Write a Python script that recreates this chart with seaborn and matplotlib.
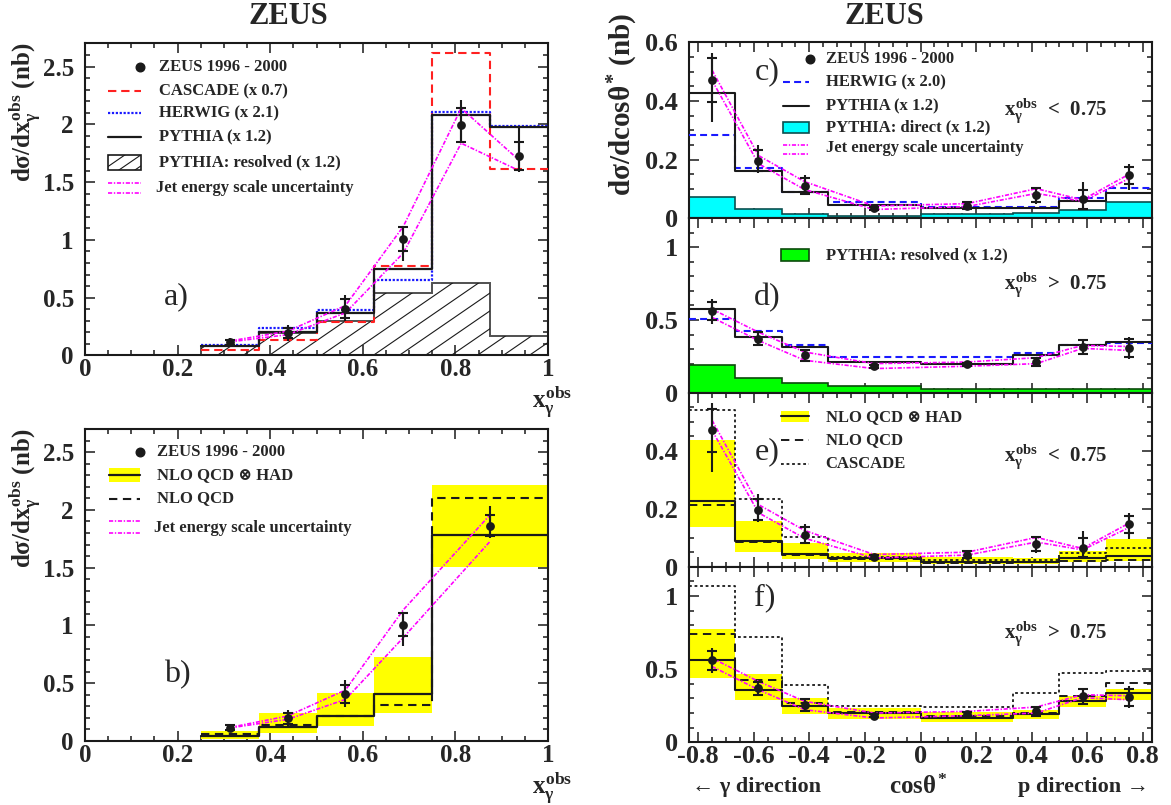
import numpy as np
import matplotlib
matplotlib.use("Agg")
import matplotlib.pyplot as plt
from matplotlib.patches import Rectangle
from matplotlib.ticker import MultipleLocator, FixedLocator, FuncFormatter
import seaborn as sns

# ---------------- x_gamma^obs cross sections (panels a, b) ----------------
xg_edges = [0.25, 0.375, 0.5, 0.625, 0.75, 0.875, 1.0]
xg_centres = [0.3125, 0.4375, 0.5625, 0.6875, 0.8125, 0.9375]
xg_data = [0.115, 0.196, 0.406, 1.008, 1.996, 1.728]
xg_stat = [0.02, 0.045, 0.08, 0.10, 0.147, 0.12]
xg_tot_dn = [0.035, 0.07, 0.11, 0.19, 0.16, 0.144]
xg_tot_up = [0.035, 0.07, 0.12, 0.11, 0.216, 0.26]
xg_jes_up = [0.125, 0.21, 0.432, 1.117, 2.14, 1.69]
xg_jes_dn = [0.118, 0.18, 0.369, 0.887, 1.837, 1.60]
xg_cascade = [0.046, 0.138, 0.294, 0.772, 2.615, 1.613]
xg_herwig = [0.092, 0.239, 0.392, 0.651, 2.105, 1.987]
xg_pythia = [0.081, 0.204, 0.369, 0.749, 2.082, 1.98]
xg_pythia_res = [0.078, 0.195, 0.30, 0.541, 0.628, 0.167]

# NLO comparison with the two highest bins merged
xgn_edges = [0.25, 0.375, 0.5, 0.625, 0.75, 1.0]
xgn_centres = [0.3125, 0.4375, 0.5625, 0.6875, 0.875]
xgn_data = [0.115, 0.196, 0.406, 1.008, 1.863]
xgn_stat = [0.02, 0.045, 0.08, 0.10, 0.093]
xgn_tot_dn = [0.035, 0.07, 0.11, 0.19, 0.11]
xgn_tot_up = [0.035, 0.07, 0.12, 0.11, 0.17]
xgn_jes_up = [0.117, 0.216, 0.441, 1.135, 1.958]
xgn_jes_dn = [0.113, 0.187, 0.36, 0.895, 1.728]
xgn_nlo_had = [0.043, 0.124, 0.216, 0.403, 1.786]
xgn_nlo = [0.058, 0.135, 0.216, 0.314, 2.10]
xgn_band_lo = [0.02, 0.072, 0.13, 0.239, 1.503]
xgn_band_hi = [0.086, 0.245, 0.418, 0.726, 2.218]

# ---------------- cos(theta*) cross sections (panels c-f) ----------------
cos_edges = [-0.833, -0.667, -0.5, -0.333, 0.0, 0.333, 0.5, 0.667, 0.833]
cos_centres = [-0.75, -0.583, -0.417, -0.167, 0.167, 0.417, 0.583, 0.75]

# x_gamma^obs < 0.75
lo_data = [0.47, 0.197, 0.110, 0.034, 0.042, 0.079, 0.065, 0.146]
lo_stat = [0.075, 0.037, 0.028, 0.006, 0.012, 0.024, 0.033, 0.03]
lo_tot_dn = [0.143, 0.043, 0.031, 0.008, 0.015, 0.031, 0.037, 0.05]
lo_tot_up = [0.094, 0.053, 0.036, 0.008, 0.015, 0.026, 0.059, 0.038]
lo_jes_up = [0.505, 0.214, 0.125, 0.042, 0.050, 0.101, 0.063, 0.150]
lo_jes_dn = [0.47, 0.186, 0.098, 0.030, 0.040, 0.085, 0.058, 0.135]
lo_pythia = [0.426, 0.160, 0.090, 0.047, 0.036, 0.036, 0.059, 0.085]
lo_herwig = [0.285, 0.171, 0.088, 0.054, 0.039, 0.039, 0.070, 0.104]
lo_pythia_dir = [0.071, 0.030, 0.015, 0.008, 0.015, 0.017, 0.028, 0.054]
lo_nlo_had = [0.225, 0.088, 0.043, 0.029, 0.017, 0.017, 0.029, 0.038]
lo_nlo = [0.214, 0.086, 0.041, 0.025, 0.014, 0.015, 0.021, 0.023]
lo_band_lo = [0.137, 0.051, 0.026, 0.015, 0.009, 0.009, 0.017, 0.021]
lo_band_hi = [0.437, 0.158, 0.082, 0.046, 0.034, 0.029, 0.054, 0.094]
lo_cascade = [0.541, 0.234, 0.103, 0.034, 0.023, 0.023, 0.046, 0.063]

# x_gamma^obs > 0.75
hi_data = [0.559, 0.370, 0.257, 0.182, 0.195, 0.211, 0.314, 0.307]
hi_stat = [0.062, 0.045, 0.04, 0.012, 0.012, 0.03, 0.05, 0.06]
hi_tot_dn = [0.086, 0.052, 0.046, 0.015, 0.015, 0.034, 0.057, 0.073]
hi_tot_up = [0.084, 0.05, 0.045, 0.015, 0.015, 0.034, 0.056, 0.075]
hi_jes_up = [0.575, 0.416, 0.28, 0.2, 0.211, 0.241, 0.325, 0.318]
hi_jes_dn = [0.518, 0.359, 0.223, 0.166, 0.182, 0.2, 0.305, 0.291]
hi_pythia = [0.575, 0.386, 0.314, 0.211, 0.195, 0.257, 0.325, 0.348]
hi_herwig = [0.507, 0.427, 0.330, 0.245, 0.245, 0.273, 0.325, 0.343]
hi_pythia_res = [0.189, 0.098, 0.064, 0.045, 0.023, 0.027, 0.025, 0.027]
hi_nlo_had = [0.563, 0.360, 0.247, 0.197, 0.167, 0.192, 0.283, 0.339]
hi_nlo = [0.740, 0.428, 0.269, 0.208, 0.179, 0.201, 0.314, 0.405]
hi_band_lo = [0.439, 0.287, 0.192, 0.158, 0.140, 0.156, 0.242, 0.292]
hi_band_hi = [0.774, 0.468, 0.303, 0.231, 0.208, 0.219, 0.317, 0.367]
hi_cascade = [1.068, 0.717, 0.389, 0.247, 0.242, 0.337, 0.473, 0.486]

# ---------------- style ----------------
sns.set_theme(style="ticks")
plt.rcParams.update({
    "font.family": ["Liberation Serif", "DejaVu Serif"],
    "font.weight": "bold",
    "mathtext.fontset": "custom",
    "mathtext.rm": "Liberation Serif:bold",
    "mathtext.it": "Liberation Serif:bold",
    "mathtext.bf": "Liberation Serif:bold",
    "mathtext.sf": "Liberation Serif:bold",
    "lines.scale_dashes": False,
    "axes.linewidth": 1.5,
    "axes.edgecolor": "black",
    "axes.facecolor": "white",
    "figure.facecolor": "white",
    "axes.grid": False,
})

MAGENTA = "#ff00ff"
JES_LS = (0, (3.0, 1.2, 1.0, 1.2))

W, H = 1171, 805
fig = plt.figure(figsize=(W / 100, H / 100), dpi=100)


def px_axes(left, top, right, bottom):
    return fig.add_axes([left / W, 1 - bottom / H, (right - left) / W, (bottom - top) / H])


ax_a = px_axes(85, 43.5, 548, 355.5)
ax_b = px_axes(85, 429, 548, 741)
ax_c = px_axes(689, 42.3, 1152, 218.3)
ax_d = px_axes(689, 218.3, 1152, 392.7)
ax_e = px_axes(689, 392.7, 1152, 566.7)
ax_f = px_axes(689, 566.7, 1152, 742.3)


def steps(ax, edges, values, **kw):
    """Histogram outline of a binned prediction."""
    e = np.asarray(edges)
    centres = 0.5 * (e[:-1] + e[1:])
    sns.histplot(x=centres, weights=values, bins=edges, element="step",
                 fill=False, ax=ax, legend=False, **kw)


def band(ax, edges, lo, hi, color="#ffff00"):
    ax.stairs(hi, edges, baseline=lo, fill=True, color=color, lw=0, zorder=1)


def hatch_fill(ax, patch, angle=34.5, step_px=26, lw=0.8):
    """Diagonal hatching clipped to a patch."""
    pos = ax.get_position()
    w_px, h_px = pos.width * W, pos.height * H
    slope = np.tan(np.radians(angle)) * w_px / h_px
    step = step_px / w_px
    for c in np.arange(-2.0 / slope - step, 1.0 + step, step):
        ln, = ax.plot([c, c + 3.0 / slope], [0, 3.0], transform=ax.transAxes,
                      color="k", lw=lw, zorder=patch.get_zorder() + 0.1)
        ln.set_clip_path(patch)


def jes(ax, x, lo, hi):
    for v in (lo, hi):
        sns.lineplot(x=x, y=v, ax=ax, color=MAGENTA, linewidth=1.2,
                     linestyle=JES_LS, errorbar=None, sort=False, zorder=5)


def points(ax, x, y, stat, tot_dn, tot_up):
    ax.errorbar(x, y, yerr=[tot_dn, tot_up], fmt="none", ecolor="k",
                elinewidth=1.5, zorder=6)
    ax.errorbar(x, y, yerr=stat, fmt="none", ecolor="k", elinewidth=1.5,
                capsize=3.8, capthick=1.5, zorder=6)
    sns.scatterplot(x=x, y=y, ax=ax, color="k", s=40, linewidth=0,
                    zorder=7, legend=False)


def tick_fmt(v, _):
    v = round(v, 6) + 0.0
    return f"{v:g}"


def style(ax, xmaj, xmin, yticks, ymin, xlim, ylim, xlabels=True, labelsize=18):
    ax.set_xlim(xlim)
    ax.set_ylim(ylim)
    ax.xaxis.set_major_locator(MultipleLocator(xmaj))
    ax.xaxis.set_minor_locator(MultipleLocator(xmin))
    ax.yaxis.set_major_locator(FixedLocator(yticks))
    ax.yaxis.set_minor_locator(MultipleLocator(ymin))
    ax.xaxis.set_major_formatter(FuncFormatter(tick_fmt))
    ax.yaxis.set_major_formatter(FuncFormatter(tick_fmt))
    ax.tick_params(which="both", direction="in", top=True, right=True,
                   width=1.1, color="k")
    ax.tick_params(which="major", length=7, labelsize=labelsize)
    ax.tick_params(which="minor", length=3.8)
    ax.tick_params(axis="x", pad=2)
    ax.tick_params(axis="y", pad=8)
    ax.tick_params(labelbottom=xlabels)
    ax.set_xlabel("")
    ax.set_ylabel("")
    for s in ax.spines.values():
        s.set_visible(True)
        s.set_linewidth(1.5)
        s.set_color("k")


# ---- legend helpers (axes-fraction placement) ----
def leg_text(ax, x, y, s, size=12):
    ax.text(x, y, s, transform=ax.transAxes, va="center", ha="left",
            fontsize=size, fontweight="bold", zorder=10)


def leg_line(ax, x0, x1, y, **kw):
    ax.plot([x0, x1], [y, y], transform=ax.transAxes, clip_on=False, zorder=10, **kw)


def leg_marker(ax, x, y):
    ax.plot([x], [y], "o", color="k", ms=6.2, transform=ax.transAxes,
            clip_on=False, zorder=10)


def leg_box(ax, x0, x1, y0, y1, **kw):
    r = Rectangle((x0, y0), x1 - x0, y1 - y0, transform=ax.transAxes,
                  zorder=9, **kw)
    ax.add_patch(r)
    return r


# ================= panel a =================
ax = ax_a
res = ax.stairs(xg_pythia_res, xg_edges, baseline=0, fill=True,
                facecolor="none", edgecolor="#505050", lw=1.4, zorder=1)
hatch_fill(ax, res)
steps(ax, xg_edges, xg_cascade, color="#ff2020", linewidth=1.5,
      linestyle=(0, (6, 3.5)), zorder=3)
steps(ax, xg_edges, xg_herwig, color="#1a1aff", linewidth=1.6,
      linestyle=(0, (1.6, 1.2)), zorder=3)
steps(ax, xg_edges, xg_pythia, color="k", linewidth=1.6, zorder=4)
jes(ax, xg_centres, xg_jes_dn, xg_jes_up)
points(ax, xg_centres, xg_data, xg_stat, xg_tot_dn, xg_tot_up)
style(ax, 0.2, 0.05, [0, 0.5, 1, 1.5, 2, 2.5], 0.1, (0, 1), (0, 2.7))

hx0, hx1, tx = 0.049, 0.121, 0.159
leg_marker(ax, 0.119, 0.924)
leg_text(ax, tx, 0.924, "ZEUS 1996 - 2000")
leg_line(ax, hx0, hx1, 0.847, color="#ff2020", lw=1.5, linestyle=(0, (6, 3.5)))
leg_text(ax, tx, 0.847, "CASCADE (x 0.7)")
leg_line(ax, hx0, hx1, 0.777, color="#1a1aff", lw=1.6, linestyle=(0, (1.6, 1.2)))
leg_text(ax, tx, 0.777, "HERWIG (x 2.1)")
leg_line(ax, hx0, hx1, 0.700, color="k", lw=1.6)
leg_text(ax, tx, 0.700, "PYTHIA (x 1.2)")
box = leg_box(ax, hx0, hx1, 0.596, 0.644, facecolor="white", edgecolor="k", lw=1.2)
hatch_fill(ax, box, step_px=16)
leg_text(ax, tx, 0.620, "PYTHIA: resolved (x 1.2)")
leg_line(ax, hx0, hx1, 0.554, color=MAGENTA, lw=1.2, linestyle=JES_LS)
leg_line(ax, hx0, hx1, 0.520, color=MAGENTA, lw=1.2, linestyle=JES_LS)
leg_text(ax, tx - 0.005, 0.537, "Jet energy scale uncertainty")
ax.text(0.198, 0.189, "a)", transform=ax.transAxes, fontsize=23,
        fontweight="normal", ha="center", va="center")

# ================= panel b =================
ax = ax_b
band(ax, xgn_edges, xgn_band_lo, xgn_band_hi)
steps(ax, xgn_edges, xgn_nlo, color="k", linewidth=1.5,
      linestyle=(0, (6, 4)), zorder=3)
steps(ax, xgn_edges, xgn_nlo_had, color="k", linewidth=1.6, zorder=4)
jes(ax, xgn_centres, xgn_jes_dn, xgn_jes_up)
points(ax, xgn_centres, xgn_data, xgn_stat, xgn_tot_dn, xgn_tot_up)
style(ax, 0.2, 0.05, [0, 0.5, 1, 1.5, 2, 2.5], 0.1, (0, 1), (0, 2.7))

hx0, hx1, tx = 0.051, 0.119, 0.155
leg_marker(ax, 0.119, 0.927)
leg_text(ax, tx, 0.927, "ZEUS 1996 - 2000")
leg_box(ax, hx0, hx1, 0.829, 0.876, facecolor="#ffff00", lw=0)
leg_line(ax, hx0, hx1, 0.852, color="k", lw=1.6)
leg_text(ax, tx, 0.851, "NLO QCD ⊗ HAD")
leg_line(ax, hx0, hx1, 0.777, color="k", lw=1.5, linestyle=(0, (6, 4)))
leg_text(ax, tx, 0.777, "NLO QCD")
leg_line(ax, hx0, hx1, 0.704, color=MAGENTA, lw=1.2, linestyle=JES_LS)
leg_line(ax, hx0, hx1, 0.667, color=MAGENTA, lw=1.2, linestyle=JES_LS)
leg_text(ax, tx - 0.005, 0.684, "Jet energy scale uncertainty")
ax.text(0.2, 0.213, "b)", transform=ax.transAxes, fontsize=23,
        fontweight="normal", ha="center", va="center")

# ================= panel c =================
RIGHT_LS = 19
ax = ax_c
ax.stairs(lo_pythia_dir, cos_edges, baseline=0, fill=True, facecolor="#00ffff",
          edgecolor="#0b4f4f", lw=1.2, zorder=1)
steps(ax, cos_edges, lo_herwig, color="#1a1aff", linewidth=1.5,
      linestyle=(0, (5, 3)), zorder=3)
steps(ax, cos_edges, lo_pythia, color="k", linewidth=1.5, zorder=4)
jes(ax, cos_centres, lo_jes_dn, lo_jes_up)
points(ax, cos_centres, lo_data, lo_stat, lo_tot_dn, lo_tot_up)
style(ax, 0.2, 0.05, [0, 0.2, 0.4, 0.6], 0.05, (-0.833, 0.833), (0, 0.6),
      xlabels=False, labelsize=RIGHT_LS)

hx0, hx1, tx = 0.202, 0.259, 0.295
leg_marker(ax, 0.261, 0.905)
leg_text(ax, tx, 0.905, "ZEUS 1996 - 2000")
leg_line(ax, hx0, hx1, 0.774, color="#1a1aff", lw=1.5, linestyle=(0, (5, 3)))
leg_text(ax, tx, 0.774, "HERWIG (x 2.0)")
leg_line(ax, hx0, hx1, 0.638, color="k", lw=1.5)
leg_text(ax, tx, 0.638, "PYTHIA (x 1.2)")
leg_box(ax, hx0, hx1, 0.483, 0.549, facecolor="#00ffff", edgecolor="#0b4f4f", lw=1.2)
leg_text(ax, tx, 0.518, "PYTHIA: direct (x 1.2)")
leg_line(ax, hx0, hx1, 0.416, color=MAGENTA, lw=1.2, linestyle=JES_LS)
leg_line(ax, hx0, hx1, 0.365, color=MAGENTA, lw=1.2, linestyle=JES_LS)
leg_text(ax, tx, 0.399, "Jet energy scale uncertainty")
ax.text(0.168, 0.831, "c)", transform=ax.transAxes, fontsize=23,
        fontweight="normal", ha="center", va="center")
ax.text(0.68, 0.615, r"$x_{\gamma}^{obs}$  <  0.75", transform=ax.transAxes,
        fontsize=15, ha="left", va="center")

# ================= panel d =================
ax = ax_d
ax.stairs(hi_pythia_res, cos_edges, baseline=0, fill=True, facecolor="#00ff00",
          edgecolor="#0b4a0b", lw=1.2, zorder=1)
steps(ax, cos_edges, hi_herwig, color="#1a1aff", linewidth=1.5,
      linestyle=(0, (5, 3)), zorder=3)
steps(ax, cos_edges, hi_pythia, color="k", linewidth=1.5, zorder=4)
jes(ax, cos_centres, hi_jes_dn, hi_jes_up)
points(ax, cos_centres, hi_data, hi_stat, hi_tot_dn, hi_tot_up)
style(ax, 0.2, 0.05, [0, 0.5, 1], 0.1, (-0.833, 0.833), (0, 1.2),
      xlabels=False, labelsize=RIGHT_LS)

leg_box(ax, 0.198, 0.259, 0.755, 0.822, facecolor="#00ff00", edgecolor="#0b4a0b", lw=1.2)
leg_text(ax, 0.295, 0.789, "PYTHIA: resolved (x 1.2)")
ax.text(0.168, 0.543, "d)", transform=ax.transAxes, fontsize=23,
        fontweight="normal", ha="center", va="center")
ax.text(0.68, 0.618, r"$x_{\gamma}^{obs}$  >  0.75", transform=ax.transAxes,
        fontsize=15, ha="left", va="center")

# ================= panel e =================
ax = ax_e
band(ax, cos_edges, lo_band_lo, lo_band_hi)
steps(ax, cos_edges, lo_cascade, color="k", linewidth=1.3,
      linestyle=(0, (2, 2)), zorder=3)
steps(ax, cos_edges, lo_nlo, color="k", linewidth=1.4,
      linestyle=(0, (6, 4)), zorder=3)
steps(ax, cos_edges, lo_nlo_had, color="k", linewidth=1.5, zorder=4)
jes(ax, cos_centres, lo_jes_dn, lo_jes_up)
points(ax, cos_centres, lo_data, lo_stat, lo_tot_dn, lo_tot_up)
style(ax, 0.2, 0.05, [0, 0.2, 0.4], 0.05, (-0.833, 0.833), (0, 0.6),
      xlabels=False, labelsize=RIGHT_LS)

leg_box(ax, 0.198, 0.259, 0.833, 0.897, facecolor="#ffff00", lw=0)
leg_line(ax, 0.198, 0.259, 0.865, color="k", lw=1.5)
leg_text(ax, 0.295, 0.860, "NLO QCD ⊗ HAD")
leg_line(ax, 0.198, 0.259, 0.728, color="k", lw=1.4, linestyle=(0, (6, 4)))
leg_text(ax, 0.295, 0.728, "NLO QCD")
leg_line(ax, 0.198, 0.259, 0.590, color="k", lw=1.3, linestyle=(0, (2, 2)))
leg_text(ax, 0.295, 0.590, "CASCADE")
ax.text(0.168, 0.661, "e)", transform=ax.transAxes, fontsize=23,
        fontweight="normal", ha="center", va="center")
ax.text(0.68, 0.632, r"$x_{\gamma}^{obs}$  <  0.75", transform=ax.transAxes,
        fontsize=15, ha="left", va="center")

# ================= panel f =================
ax = ax_f
band(ax, cos_edges, hi_band_lo, hi_band_hi)
steps(ax, cos_edges, hi_cascade, color="k", linewidth=1.3,
      linestyle=(0, (2, 2)), zorder=3)
steps(ax, cos_edges, hi_nlo, color="k", linewidth=1.4,
      linestyle=(0, (6, 4)), zorder=3)
steps(ax, cos_edges, hi_nlo_had, color="k", linewidth=1.5, zorder=4)
jes(ax, cos_centres, hi_jes_dn, hi_jes_up)
points(ax, cos_centres, hi_data, hi_stat, hi_tot_dn, hi_tot_up)
style(ax, 0.2, 0.05, [0, 0.5, 1], 0.1, (-0.833, 0.833), (0, 1.2),
      labelsize=RIGHT_LS)

ax.text(0.164, 0.822, "f)", transform=ax.transAxes, fontsize=23,
        fontweight="normal", ha="center", va="center")
ax.text(0.68, 0.621, r"$x_{\gamma}^{obs}$  >  0.75", transform=ax.transAxes,
        fontsize=15, ha="left", va="center")

# ================= titles and axis titles =================
fig.text(288 / W, 1 - 17 / H, "ZEUS", ha="center", va="center", fontsize=22, fontweight="bold")
fig.text(884 / W, 1 - 17 / H, "ZEUS", ha="center", va="center", fontsize=22, fontweight="bold")

ylab_x = r"$d\sigma/dx_{\gamma}^{obs}$ (nb)"
fig.text(25 / W, 1 - 43 / H, ylab_x, rotation=90, ha="center", va="top", fontsize=18)
fig.text(25 / W, 1 - 429 / H, ylab_x, rotation=90, ha="center", va="top", fontsize=18)
fig.text(623 / W, 1 - 13 / H, r"$d\sigma/dcos\theta^{*}$ (nb)", rotation=90,
         ha="center", va="top", fontsize=21)

xlab_x = r"$x_{\gamma}^{obs}$"
fig.text(572 / W, 1 - 384 / H, xlab_x, ha="right", va="top", fontsize=18)
fig.text(572 / W, 1 - 770 / H, xlab_x, ha="right", va="top", fontsize=18)

fig.text(757 / W, 1 - 787 / H, "← γ direction", ha="center", va="center", fontsize=16)
fig.text(918 / W, 1 - 787 / H, r"$cos\theta^{*}$", ha="center", va="center", fontsize=18)
fig.text(1083 / W, 1 - 787 / H, "p direction →", ha="center", va="center", fontsize=16)

fig.savefig("out.png", dpi=100)
